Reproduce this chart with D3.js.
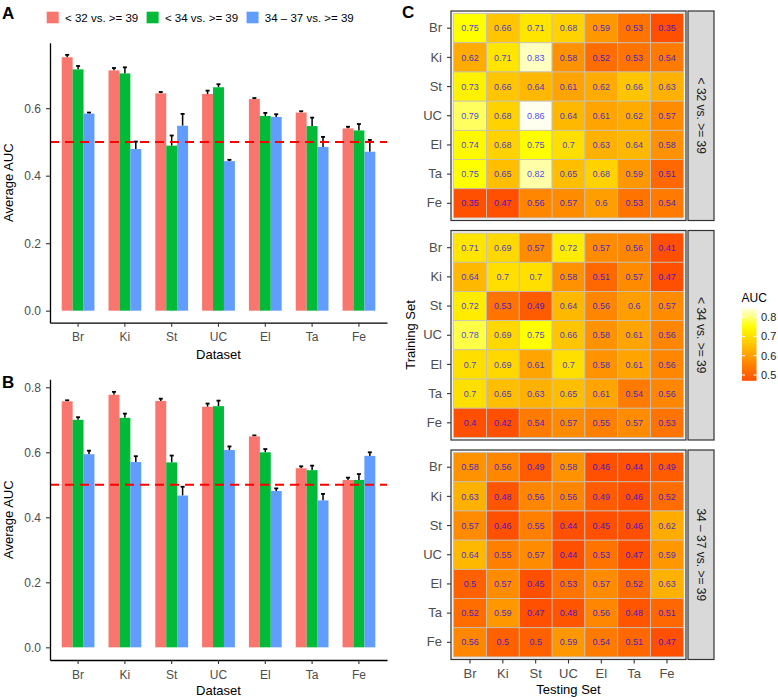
<!DOCTYPE html>
<meta charset="utf-8">
<style>* {padding:0; margin:0; border:0;} body {background:#fff;} text {font-family:"Liberation Sans", Arial, sans-serif;}</style>
<body>
<script src="https://d3js.org/d3.v7.min.js"></script>
<script>

datasets = ["Br", "Ki", "St", "UC", "El", "Ta", "Fe"]
groups = ["< 32 vs. >= 39", "< 34 vs. >= 39", "34 \u2013 37 vs. >= 39"]
groupColors = ["#F8766D", "#00BA38", "#619CFF"]

// panel A : average AUC, one row per group
aucA = [
  [0.751, 0.712, 0.644, 0.642, 0.627, 0.587, 0.540],
  [0.715, 0.703, 0.489, 0.662, 0.577, 0.547, 0.534],
  [0.584, 0.479, 0.548, 0.443, 0.574, 0.485, 0.471]
]
errA = [
  [0.007, 0.007, 0.004, 0.010, 0.003, 0.004, 0.005],
  [0.010, 0.018, 0.030, 0.009, 0.009, 0.025, 0.019],
  [0.003, 0.022, 0.035, 0.004, 0.008, 0.030, 0.035]
]

// panel B
aucB = [
  [0.757, 0.777, 0.758, 0.740, 0.649, 0.551, 0.515],
  [0.700, 0.706, 0.569, 0.742, 0.600, 0.545, 0.515],
  [0.594, 0.570, 0.467, 0.607, 0.481, 0.452, 0.589]
]
errB = [
  [0.003, 0.009, 0.007, 0.010, 0.003, 0.006, 0.007],
  [0.008, 0.013, 0.021, 0.017, 0.010, 0.014, 0.018],
  [0.011, 0.018, 0.027, 0.011, 0.008, 0.020, 0.011]
]
barTicks = [0, 0.2, 0.4, 0.6, 0.8]

// panel C : rows = training set, cols = testing set
heat32 = [
  [0.75, 0.66, 0.71, 0.68, 0.59, 0.53, 0.35],
  [0.62, 0.71, 0.83, 0.58, 0.52, 0.53, 0.54],
  [0.73, 0.66, 0.64, 0.61, 0.62, 0.66, 0.63],
  [0.79, 0.68, 0.86, 0.64, 0.61, 0.62, 0.57],
  [0.74, 0.68, 0.75, 0.7, 0.63, 0.64, 0.58],
  [0.75, 0.65, 0.82, 0.65, 0.68, 0.59, 0.51],
  [0.35, 0.47, 0.56, 0.57, 0.6, 0.53, 0.54]
]
heat34 = [
  [0.71, 0.69, 0.57, 0.72, 0.57, 0.56, 0.41],
  [0.64, 0.7, 0.7, 0.58, 0.51, 0.57, 0.47],
  [0.72, 0.53, 0.49, 0.64, 0.56, 0.6, 0.57],
  [0.78, 0.69, 0.75, 0.66, 0.58, 0.61, 0.56],
  [0.7, 0.69, 0.61, 0.7, 0.58, 0.61, 0.56],
  [0.7, 0.65, 0.63, 0.65, 0.61, 0.54, 0.56],
  [0.4, 0.42, 0.54, 0.57, 0.55, 0.57, 0.53]
]
heat3437 = [
  [0.58, 0.56, 0.49, 0.58, 0.46, 0.44, 0.49],
  [0.63, 0.48, 0.56, 0.56, 0.49, 0.46, 0.52],
  [0.57, 0.46, 0.55, 0.44, 0.45, 0.46, 0.62],
  [0.64, 0.55, 0.57, 0.44, 0.53, 0.47, 0.59],
  [0.5, 0.57, 0.45, 0.53, 0.57, 0.52, 0.63],
  [0.52, 0.59, 0.47, 0.48, 0.56, 0.48, 0.51],
  [0.56, 0.5, 0.5, 0.59, 0.54, 0.51, 0.47]
]
heatMats = [heat32, heat34, heat3437]
legendTicks = [0.5, 0.6, 0.7, 0.8]

svg = d3.select('body').append('svg')
  .attr('width', 778)
  .attr('height', 698)

function panelLetter(t, x, y){
  svg.append('text').attr('x', x).attr('y', y).text(t)
    .style('font-size', '17px').style('font-weight', 'bold')
}

function barPanel(vals, errs, top, bottom, ymin, ymax, titleY){
  var x = d3.scaleBand().domain(datasets).range([50, 387]).paddingInner(0.3).paddingOuter(0.25)
  var xg = d3.scaleBand().domain([0, 1, 2]).range([0, x.bandwidth()])
  var y = d3.scaleLinear().domain([ymin, ymax]).range([bottom, top])
  var g = svg.append('g')

  var rows = []
  vals.forEach(function(r, gi){
    r.forEach(function(v, di){ rows.push({g: gi, d: datasets[di], v: v, e: errs[gi][di]}) })
  })

  // error bars (upper half only visible)
  var eb = g.selectAll('.eb').data(rows).enter().append('g')
  eb.append('line')
    .attr('x1', function(d){ return x(d.d) + xg(d.g) + xg.bandwidth()/2 })
    .attr('x2', function(d){ return x(d.d) + xg(d.g) + xg.bandwidth()/2 })
    .attr('y1', function(d){ return y(d.v) })
    .attr('y2', function(d){ return y(d.v + d.e) })
    .style('stroke', '#000').style('stroke-width', 1.5)
  eb.append('line')
    .attr('x1', function(d){ return x(d.d) + xg(d.g) + xg.bandwidth()/2 - 2 })
    .attr('x2', function(d){ return x(d.d) + xg(d.g) + xg.bandwidth()/2 + 2 })
    .attr('y1', function(d){ return y(d.v + d.e) })
    .attr('y2', function(d){ return y(d.v + d.e) })
    .style('stroke', '#000').style('stroke-width', 1.8)

  g.selectAll('rect').data(rows).enter().append('rect')
    .attr('x', function(d){ return x(d.d) + xg(d.g) })
    .attr('y', function(d){ return y(d.v) })
    .attr('width', xg.bandwidth())
    .attr('height', function(d){ return y(0) - y(d.v) })
    .style('fill', function(d){ return groupColors[d.g] })

  g.append('line')
    .attr('x1', 50).attr('x2', 387)
    .attr('y1', y(0.5)).attr('y2', y(0.5))
    .style('stroke', '#FF0000').style('stroke-width', 2).style('stroke-dasharray', '9,6')

  var ya = svg.append('g').attr('transform', 'translate(50,0)')
    .call(d3.axisLeft(y).tickValues(barTicks.filter(function(t){ return t <= ymax }))
      .tickFormat(d3.format('.1f')).tickSize(4).tickSizeOuter(0).tickPadding(5))
  var xa = svg.append('g').attr('transform', 'translate(0,' + bottom + ')')
    .call(d3.axisBottom(x).tickSize(4).tickSizeOuter(0).tickPadding(6))
  ;[ya, xa].forEach(function(a){
    a.select('.domain').style('stroke', '#000').style('stroke-width', 1.3)
    a.selectAll('.tick line').style('stroke', '#333').style('stroke-width', 1.1)
    a.selectAll('.tick text').style('font-size', '12px').style('fill', '#4D4D4D')
      .style('font-family', '"Liberation Sans", Arial, sans-serif')
  })

  svg.append('text').attr('transform', 'translate(12.5,' + (top + bottom)/2 + ') rotate(-90)')
    .attr('text-anchor', 'middle').style('font-size', '13px').text('Average AUC')
  svg.append('text').attr('x', 218.5).attr('y', titleY)
    .attr('text-anchor', 'middle').style('font-size', '13px').text('Dataset')
}

barPanel(aucA, errA, 42.7, 322.7, -0.0356, 0.794, 358.5)
barPanel(aucB, errB, 379.3, 660, -0.039, 0.8246, 695)
panelLetter('A', 2, 18.5)
panelLetter('B', 2, 387.5)
panelLetter('C', 402, 17.5)

// bar legend
var lx = 46.7
groups.forEach(function(name, i){
  svg.append('rect').attr('x', lx).attr('y', 11.7).attr('width', 12).attr('height', 11.6)
    .style('fill', groupColors[i])
  var t = svg.append('text').attr('x', lx + 18.3).attr('y', 21.5)
    .style('font-size', '11.5px').text(name)
  lx = lx + 18.3 + t.node().getComputedTextLength() + 8.4
})

// heatmap
color = d3.scaleLinear()
  .domain([0.47, 0.6, 0.75, 0.85])
  .range(["#FF4F00", "#FF9E00", "#FFFF00", "#FFFFF0"])
  .clamp(true)

facet = d3.scaleBand().domain(groups).range([11, 659.5]).paddingInner(10/219.5)
hx = d3.scaleBand().domain(datasets).range([451 + 2.6, 686 - 2.6])

groups.forEach(function(name, k){
  var top = facet(name), h = facet.bandwidth()
  var hy = d3.scaleBand().domain(datasets).range([top + 2.6, top + h - 2.6])
  var g = svg.append('g')
  g.append('rect').attr('x', 451).attr('y', top).attr('width', 235).attr('height', h)
    .style('fill', '#F2F2F2')

  var cells = []
  heatMats[k].forEach(function(r, i){
    r.forEach(function(v, j){ cells.push({tr: datasets[i], te: datasets[j], v: v}) })
  })
  g.selectAll('rect.cell').data(cells).enter().append('rect').attr('class', 'cell')
    .attr('x', function(d){ return hx(d.te) })
    .attr('y', function(d){ return hy(d.tr) })
    .attr('width', hx.bandwidth())
    .attr('height', hy.bandwidth())
    .style('fill', function(d){ return color(d.v) })
    .style('stroke', '#C4C0B8').style('stroke-width', 0.8)
  g.selectAll('text').data(cells).enter().append('text')
    .attr('x', function(d){ return hx(d.te) + hx.bandwidth()/2 })
    .attr('y', function(d){ return hy(d.tr) + hy.bandwidth()/2 })
    .attr('dy', '0.35em').attr('text-anchor', 'middle')
    .style('font-size', '9px').style('fill', '#0000FF').style('fill-opacity', 0.75)
    .text(function(d){ return String(d.v) })

  g.append('rect').attr('x', 451).attr('y', top).attr('width', 235).attr('height', h)
    .style('fill', 'none').style('stroke', '#333').style('stroke-width', 1.2)

  // strip
  g.append('rect').attr('x', 688).attr('y', top).attr('width', 26).attr('height', h)
    .style('fill', '#D9D9D9').style('stroke', '#333').style('stroke-width', 1.2)
  g.append('text').attr('transform', 'translate(701,' + (top + h/2) + ') rotate(90)')
    .attr('text-anchor', 'middle').attr('dy', '0.35em')
    .style('font-size', '12px').style('fill', '#1A1A1A').text(name)

  var ya = svg.append('g').attr('transform', 'translate(451,0)')
    .call(d3.axisLeft(hy).tickSize(4).tickSizeOuter(0).tickPadding(5))
  ya.select('.domain').remove()
  ya.selectAll('.tick line').style('stroke', '#333').style('stroke-width', 1.1)
  ya.selectAll('.tick text').style('font-size', '13px').style('fill', '#4D4D4D')
    .style('font-family', '"Liberation Sans", Arial, sans-serif')

  if (k == groups.length - 1) {
    var xa = svg.append('g').attr('transform', 'translate(0,' + (top + h) + ')')
      .call(d3.axisBottom(hx).tickSize(4).tickSizeOuter(0).tickPadding(5.5))
    xa.select('.domain').remove()
    xa.selectAll('.tick line').style('stroke', '#333').style('stroke-width', 1.1)
    xa.selectAll('.tick text').style('font-size', '13px').style('fill', '#4D4D4D')
      .style('font-family', '"Liberation Sans", Arial, sans-serif')
  }
})

svg.append('text').attr('x', 568.5).attr('y', 694)
  .attr('text-anchor', 'middle').style('font-size', '13px').text('Testing Set')
svg.append('text').attr('transform', 'translate(414.5,335) rotate(-90)')
  .attr('text-anchor', 'middle').style('font-size', '13px').text('Training Set')

// colour bar legend
var ly = d3.scaleLinear().domain([0.47, 0.85]).range([380.8, 307.4])
var grad = svg.append('defs').append('linearGradient').attr('id', 'aucgrad')
  .attr('x1', 0).attr('x2', 0).attr('y1', 1).attr('y2', 0)
d3.range(0, 1.0001, 0.05).forEach(function(t){
  var v = 0.47 + t * (0.85 - 0.47)
  grad.append('stop').attr('offset', t).attr('stop-color', color(v))
})
svg.append('rect').attr('x', 742).attr('y', ly(0.85)).attr('width', 14.5)
  .attr('height', ly(0.47) - ly(0.85)).style('fill', 'url(#aucgrad)')
legendTicks.forEach(function(t){
  svg.append('line').attr('x1', 742).attr('x2', 745).attr('y1', ly(t)).attr('y2', ly(t))
    .style('stroke', '#fff').style('stroke-width', 1)
  svg.append('line').attr('x1', 753.5).attr('x2', 756.5).attr('y1', ly(t)).attr('y2', ly(t))
    .style('stroke', '#fff').style('stroke-width', 1)
  svg.append('text').attr('x', 761).attr('y', ly(t)).attr('dy', '0.35em')
    .style('font-size', '11px').style('fill', '#1A1A1A').text(t.toFixed(1))
})
svg.append('text').attr('x', 741.5).attr('y', 302).style('font-size', '12px').text('AUC')

</script>
